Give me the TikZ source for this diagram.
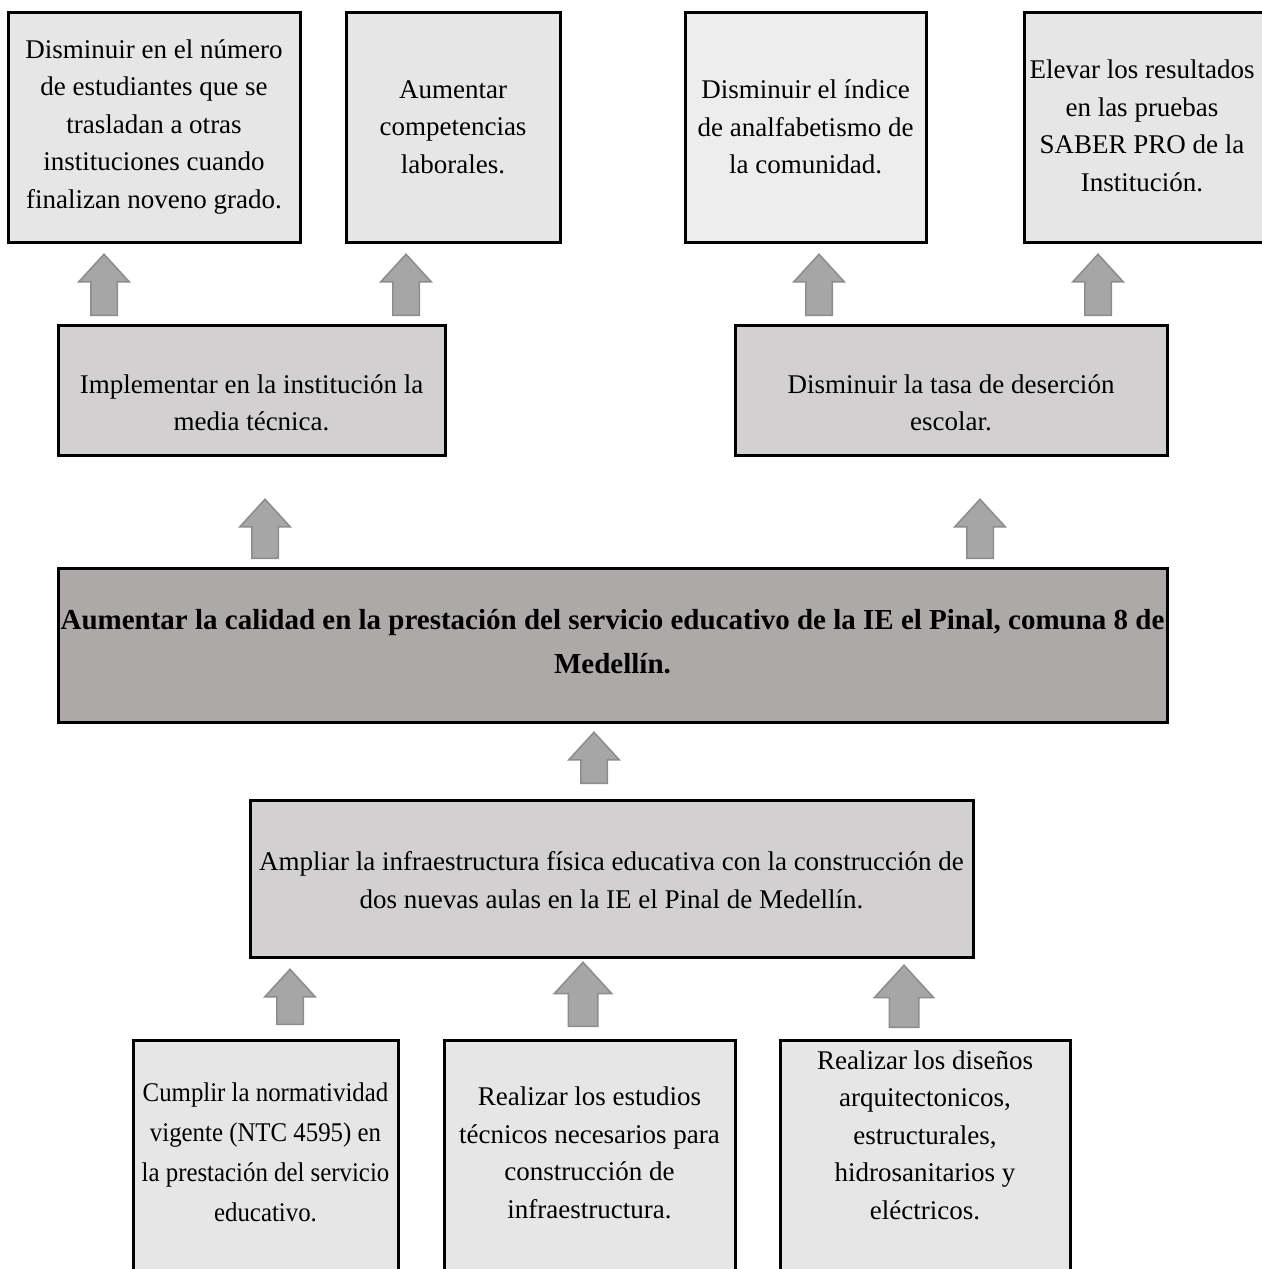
\documentclass[tikz,border=0pt]{standalone}
\usepackage{fontspec}
\setmainfont{Liberation Serif}
\newfontfamily\estrecha[FakeStretch=0.92]{Liberation Serif}
\usetikzlibrary{shapes.arrows}

\definecolor{grisclaro}{HTML}{E6E6E6}
\definecolor{grisblanco}{HTML}{EDEDED}
\definecolor{grismedio}{HTML}{D2D0D1}
\definecolor{grisoscuro}{HTML}{ADA9A8}
\definecolor{flechagris}{HTML}{A6A6A6}
\definecolor{bordeflecha}{HTML}{8C8C8C}

\tikzset{
  caja/.style={draw=black, line width=1.5pt, fill=grisclaro, inner sep=0pt},
  texto/.style={align=center, inner sep=0pt, font=\fontsize{13.5}{18.75}\selectfont},
  flecha/.style={single arrow, draw=bordeflecha, fill=flechagris, line width=0.75pt,
    rotate=90, anchor=tail, inner xsep=0pt, inner ysep=6.25pt, single arrow head extend=6pt,
    single arrow tip angle=85, single arrow head indent=0pt}
}

\begin{document}
\begin{tikzpicture}[x=0.5pt, y=-0.5pt]

\useasboundingbox (0,0) rectangle (1262,1269);

%draw the effect boxes on top
\node[caja, minimum width=146pt, minimum height=115pt] (efecto1) at (154,127) {};
\node[texto] (efecto1t) at (efecto1.center) {Disminuir en el número\\de estudiantes que se\\trasladan a otras\\instituciones cuando\\finalizan noveno grado.};
\node[caja, minimum width=107pt, minimum height=115pt] (efecto2) at (453,127) {};
\node[texto] (efecto2t) at (efecto2.center) {Aumentar\\competencias\\laborales.};
\node[caja, fill=grisblanco, minimum width=120.5pt, minimum height=115pt] (efecto3) at (805.5,127) {};
\node[texto] (efecto3t) at (efecto3.center) {Disminuir el índice\\de analfabetismo de\\la comunidad.};
\node[caja, minimum width=120pt, minimum height=115pt] (efecto4) at (1144,127) {};
\node[texto] (efecto4t) at (1142,126) {Elevar los resultados\\en las pruebas\\SABER PRO de la\\Institución.};

%middle boxes
\node[caja, fill=grismedio, minimum width=193.5pt, minimum height=65pt] (medio1) at (251.5,390) {};
\node[texto] (medio1t) at (251.5,403) {Implementar en la institución la\\media técnica.};
\node[caja, fill=grismedio, minimum width=216pt, minimum height=65pt] (medio2) at (951,390) {};
\node[texto] (medio2t) at (951,403) {Disminuir la tasa de deserción\\escolar.};

%central objective
\node[caja, fill=grisoscuro, minimum width=554.5pt, minimum height=77pt] (central) at (612.5,645) {};
\node[texto, font=\fontsize{14.5}{22}\selectfont\bfseries] (centralt) at (612.5,642) {Aumentar la calidad en la prestación del servicio educativo de la IE el Pinal, comuna 8 de\\Medellín.};

%means
\node[caja, fill=grismedio, minimum width=361.5pt, minimum height=78.5pt] (medio) at (611.5,878.5) {};
\node[texto] (mediot) at (611.5,880) {Ampliar la infraestructura física educativa con la construcción de\\dos nuevas aulas en la IE el Pinal de Medellín.};

%bottom boxes (they run past the page)
\node[caja, minimum width=132.5pt, minimum height=130pt] (base1) at (265.5,1170) {};
\node[texto, font=\estrecha\fontsize{13.5}{20}\selectfont] (base1t) at (265.5,1152) {Cumplir la normatividad\\vigente (NTC 4595) en\\la prestación del servicio\\educativo.};
\node[caja, minimum width=145.5pt, minimum height=130pt] (base2) at (589.5,1170) {};
\node[texto] (base2t) at (589.5,1153) {Realizar los estudios\\técnicos necesarios para\\construcción de\\infraestructura.};
\node[caja, minimum width=145pt, minimum height=130pt] (base3) at (925,1170) {};
\node[texto] (base3t) at (925,1135) {Realizar los diseños\\arquitectonicos,\\estructurales,\\hidrosanitarios  y\\eléctricos.};

%block arrows
\node[flecha, minimum height=30.5pt] (f1) at (104,316) {};
\node[flecha, minimum height=30.5pt] (f2) at (406,316) {};
\node[flecha, minimum height=30.5pt] (f3) at (819,316) {};
\node[flecha, minimum height=30.5pt] (f4) at (1098,316) {};
\node[flecha, minimum height=29.5pt] (f5) at (265,559) {};
\node[flecha, minimum height=29.5pt] (f6) at (980,559) {};
\node[flecha, minimum height=25.5pt] (f7) at (594,784) {};
\node[flecha, minimum height=27.5pt] (f8) at (290,1025) {};
\node[flecha, minimum height=32pt, inner ysep=7pt, single arrow head extend=7pt] (f9) at (583,1027) {};
\node[flecha, minimum height=31pt, inner ysep=7pt, single arrow head extend=7.5pt] (f10) at (904,1028) {};

\end{tikzpicture}
\end{document}
